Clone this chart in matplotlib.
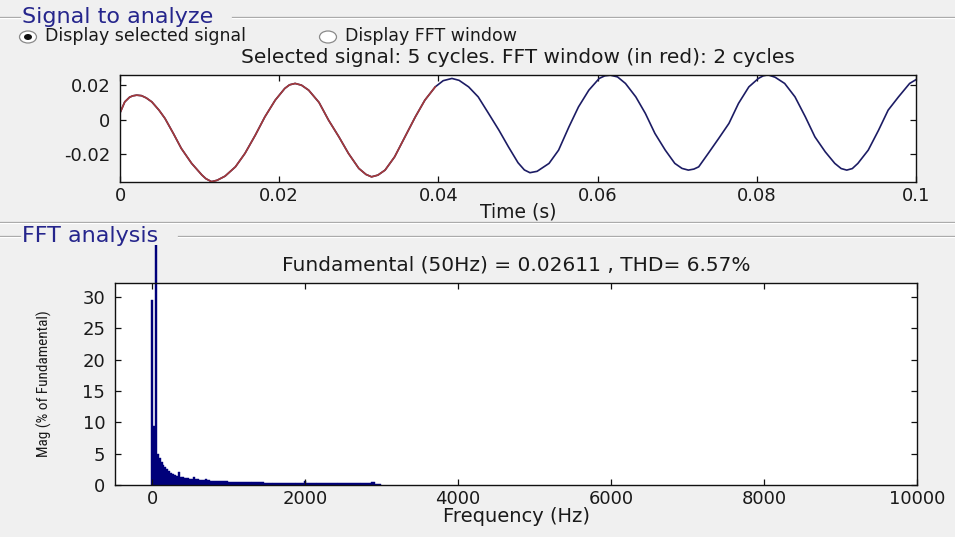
import numpy as np
import matplotlib
matplotlib.use("Agg")
import matplotlib.pyplot as plt
from matplotlib.patches import Ellipse
from matplotlib.lines import Line2D
from matplotlib.transforms import Bbox, TransformedBbox

""" Data read from the picture """
# selected signal: time (ms) and value
t_ms = [0.0, 0.6, 1.2, 1.6, 2.1, 2.7, 3.3, 4.0, 4.9, 5.65, 6.7, 7.7, 9.0,
        10.3, 10.8, 11.5, 12.2, 13.2, 14.5, 15.7, 17.0, 18.2, 19.5, 20.7,
        21.3, 22.0, 22.8, 23.7, 25.0, 26.2, 27.5, 28.7, 30.0, 30.9, 31.6,
        32.4, 33.3, 34.5, 35.8, 37.1, 38.3, 39.6, 40.6, 41.7, 42.6, 43.8,
        45.0, 46.3, 47.6, 48.8, 50.0, 50.8, 51.5, 52.4, 53.9, 55.1, 56.4,
        57.6, 58.9, 60.2, 60.9, 61.6, 62.5, 63.5, 64.8, 66.0, 67.2, 68.5,
        69.7, 70.6, 71.4, 72.1, 72.7, 73.9, 75.2, 76.5, 77.7, 79.0, 80.2,
        80.8, 81.4, 82.3, 83.5, 84.8, 86.1, 87.3, 88.6, 89.8, 90.6, 91.3,
        92.0, 92.7, 94.0, 95.3, 96.5, 97.8, 99.2, 100.0]
signal = [0.0039, 0.0103, 0.0130, 0.0138, 0.0142, 0.0139, 0.0126, 0.0103,
          0.0055, 0.0007, -0.0080, -0.0167, -0.0254, -0.0322, -0.0343,
          -0.0360, -0.0352, -0.0328, -0.0274, -0.0196, -0.0090, 0.0016,
          0.0113, 0.0181, 0.0202, 0.0210, 0.0200, 0.0171, 0.0100, -0.0003,
          -0.0100, -0.0196, -0.0283, -0.0318, -0.0332, -0.0322, -0.0293,
          -0.0216, -0.0100, 0.0016, 0.0113, 0.0190, 0.0226, 0.0239, 0.0228,
          0.0190, 0.0132, 0.0036, -0.0061, -0.0158, -0.0250, -0.0292,
          -0.0308, -0.0300, -0.0254, -0.0177, -0.0042, 0.0074, 0.0171,
          0.0239, 0.0254, 0.0258, 0.0248, 0.0210, 0.0132, 0.0036, -0.0080,
          -0.0177, -0.0254, -0.0283, -0.0293, -0.0287, -0.0274, -0.0196,
          -0.0110, -0.0022, 0.0094, 0.0190, 0.0239, 0.0254, 0.0260, 0.0246,
          0.0210, 0.0132, 0.0016, -0.0100, -0.0187, -0.0254, -0.0284,
          -0.0293, -0.0284, -0.0254, -0.0177, -0.0061, 0.0055, 0.0132,
          0.0210, 0.0232]
fft_window_ms = 40  # 2 cycles shown in red

# FFT magnitudes (% of fundamental), one value per 25 Hz bin from 0 Hz
bin_hz = 25
mag_pct = [29.5, 9.4, 100.0, 5.0, 4.3, 3.7, 3.2, 2.8, 2.5, 2.2,
           1.95, 1.8, 1.65, 1.5, 2.0, 1.3, 1.2, 1.15, 1.1, 1.05,
           1.0, 0.95, 1.2, 0.95, 0.9, 0.85, 0.8, 0.8, 0.9, 0.75,
           0.72, 0.7, 0.7, 0.68, 0.66, 0.64, 0.62, 0.6, 0.58, 0.56,
           0.55, 0.54, 0.53, 0.52, 0.5, 0.5, 0.48, 0.47, 0.46, 0.45,
           0.45, 0.44, 0.44, 0.43, 0.43, 0.42, 0.42, 0.42, 0.42, 0.33,
           0.33, 0.32, 0.32, 0.32, 0.32, 0.31, 0.31, 0.31, 0.31, 0.31,
           0.31, 0.3, 0.3, 0.3, 0.3, 0.3, 0.3, 0.3, 0.3, 0.3,
           0.65, 0.29, 0.29, 0.29, 0.29, 0.28, 0.28, 0.28, 0.28, 0.28,
           0.28, 0.28, 0.28, 0.28, 0.28, 0.28, 0.27, 0.27, 0.27, 0.27,
           0.27, 0.27, 0.27, 0.27, 0.27, 0.27, 0.26, 0.26, 0.26, 0.26,
           0.26, 0.26, 0.26, 0.26, 0.26, 0.4, 0.4, 0.2, 0.15, 0.1]
freq = np.arange(len(mag_pct)) * bin_hz

sig_xticks = [0, 0.02, 0.04, 0.06, 0.08, 0.1]
sig_xlabels = ["0", "0.02", "0.04", "0.06", "0.08", "0.1"]
sig_yticks = [-0.02, 0, 0.02]
sig_ylabels = ["-0.02", "0", "0.02"]
fft_xticks = [0, 2000, 4000, 6000, 8000, 10000]
fft_yticks = [0, 5, 10, 15, 20, 25, 30]

title_sig = "Selected signal: 5 cycles. FFT window (in red): 2 cycles"
title_fft = "Fundamental (50Hz) = 0.02611 , THD= 6.57%"

""" Figure """
W, H = 955, 537
BG = "#f0f0f0"
PANEL_BLUE = "#25258c"
TXT = "#1a1a1a"
plt.rcParams['font.family'] = ['DejaVu Sans']

fig = plt.figure(figsize=(W / 100, H / 100), dpi=100, facecolor=BG)

def px(x0, y0, x1, y1):
    # pixel box (top-left origin) -> figure fraction rect
    return [x0 / W, 1 - y1 / H, (x1 - x0) / W, (y1 - y0) / H]

def hline(y, x0, x1):
    fig.add_artist(Line2D([x0 / W, x1 / W], [1 - y / H] * 2, color="#a0a0a0", lw=0.9))
    fig.add_artist(Line2D([x0 / W, x1 / W], [1 - (y + 1) / H] * 2, color="white", lw=0.9))

# panel frames
hline(17, 0, 20)
hline(17, 232, W)
hline(222, 0, W)
hline(236, 0, 20)
hline(236, 178, W)
fig.text(22 / W, 1 - 17 / H, "Signal to analyze", color=PANEL_BLUE, fontsize=16,
         ha='left', va='center')
fig.text(22 / W, 1 - 236 / H, "FFT analysis", color=PANEL_BLUE, fontsize=16,
         ha='left', va='center')

# radio buttons
for cx, label, on in [(28, "Display selected signal", True), (328, "Display FFT window", False)]:
    fig.add_artist(Ellipse((cx / W, 1 - 37 / H), 17 / W, 12 / H, facecolor="white",
                           edgecolor="#8a8a8a", lw=0.9, transform=fig.transFigure))
    if on:
        fig.add_artist(Ellipse((cx / W, 1 - 37 / H), 8 / W, 6 / H, facecolor="#111111",
                               edgecolor="none", transform=fig.transFigure))
    fig.text((cx + 17) / W, 1 - 36 / H, label, color=TXT, fontsize=12.5,
             ha='left', va='center')

def style(ax):
    ax.set_facecolor("white")
    for s in ax.spines.values():
        s.set_linewidth(1.0)
        s.set_color("#111111")
    ax.tick_params(direction='in', length=4, width=0.9, top=True, right=True,
                   labelsize=13, labelcolor=TXT, color="#111111")
    ax.tick_params(axis='y', pad=7)
    ax.tick_params(axis='x', pad=3.5)

""" Signal plot """
ax1 = fig.add_axes(px(120, 75, 916, 182))
style(ax1)
t_s = np.array(t_ms) / 1000.0
sig = np.array(signal)
ax1.plot(t_s, sig, color="#1c1c64", lw=1.2)
red = np.array(t_ms) <= fft_window_ms
ax1.plot(t_s[red], sig[red], color="#a53a3a", lw=1.2)
ax1.set_xlim(0, 0.1)
ax1.set_ylim(-0.0362, 0.0259)
ax1.set_xticks(sig_xticks)
ax1.set_xticklabels(sig_xlabels)
ax1.set_yticks(sig_yticks)
ax1.set_yticklabels(sig_ylabels)
ax1.set_title(title_sig, fontsize=14.5, color=TXT, y=1 + 17 / 107, pad=0, va='center')
ax1.set_xlabel("Time (s)", fontsize=13.5, color=TXT)
ax1.xaxis.set_label_coords(0.5, -30 / 107)
ax1.xaxis.label.set_va('center')

""" FFT plot """
ax2 = fig.add_axes(px(115, 283, 917, 485))
style(ax2)
bars = ax2.bar(freq, mag_pct, width=bin_hz, color="#00007a",
               edgecolor="#00007a", linewidth=0.3)
# the fundamental bar runs past the axes, up to the panel border
clip = TransformedBbox(Bbox.from_extents(115 / W, 1 - 486 / H, 917 / W, 1 - 245 / H),
                       fig.transFigure)
for b in bars:
    b.set_clip_path(None)
    b.set_clip_box(clip)
ax2.set_xlim(-484, 10000)
ax2.set_ylim(0, 32.2)
ax2.set_xticks(fft_xticks)
ax2.set_yticks(fft_yticks)
ax2.set_title(title_fft, fontsize=14.5, color=TXT, y=1 + 18 / 202, pad=0, va='center')
ax2.set_xlabel("Frequency (Hz)", fontsize=14, color=TXT)
ax2.xaxis.set_label_coords(0.5, -32 / 202)
ax2.xaxis.label.set_va('center')
ax2.set_ylabel("Mag (% of Fundamental)", fontsize=11, color=TXT,
               family=['Roboto Condensed', 'Liberation Sans Narrow', 'DejaVu Sans'],
               fontstretch='condensed')
ax2.yaxis.set_label_coords(-71 / 802, 0.5)
ax2.yaxis.label.set_va('center')

fig.savefig("out.png", dpi=100, facecolor=BG)
